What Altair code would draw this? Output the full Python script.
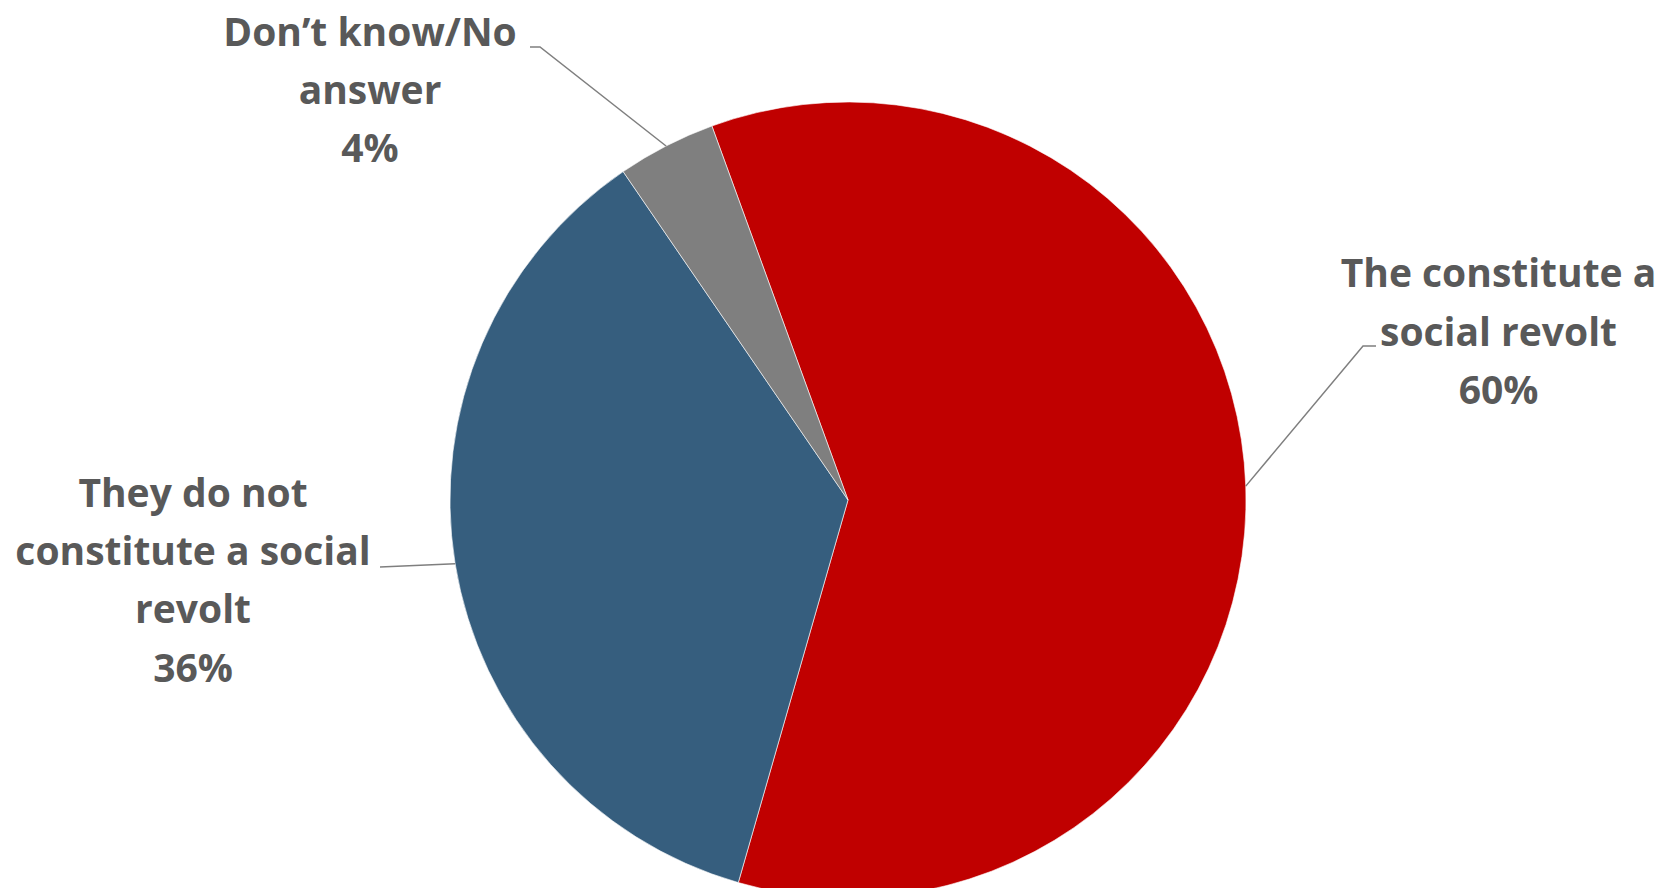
import math
import altair as alt
import pandas as pd

# ---- data ----
categories = [
    "The constitute a social revolt",
    "They do not constitute a social revolt",
    "Don’t know/No answer",
]
values = [60, 36, 4]
colors = ["#C00000", "#365E7E", "#7F7F7F"]
label_lines = [
    ["The constitute a", "social revolt", "60%"],
    ["They do not", "constitute a social", "revolt", "36%"],
    ["Don’t know/No", "answer", "4%"],
]

# ---- layout (plot-area pixels) ----
W, H = 1654, 880
CX, CY, R = 840, 492, 398
START_DEG = -20.0
label_x = [1490.5, 185.0, 362.0]
label_y0 = [279.3, 498.7, 37.5]
LINE_H = 58.3
elbows = [
    [(1355, 338), (1368, 338)],
    [(372, 559)],
    [(532, 39), (522, 39)],
]
FONT = "Open Sans"
FSIZE = 39
TCOLOR = "#595959"

pie_df = pd.DataFrame({"cat": categories, "value": values, "idx": list(range(len(values)))})

start_rad = math.radians(START_DEG)
total = sum(values)

pie = alt.Chart(pie_df).mark_arc(radius=R, stroke="white", strokeWidth=0.6).encode(
    theta=alt.Theta("value:Q", stack=True,
                    scale=alt.Scale(range=[start_rad, start_rad + 2 * math.pi])),
    color=alt.Color("cat:N", scale=alt.Scale(domain=categories, range=colors), legend=None),
    order=alt.Order("idx:Q"),
    x=alt.value(CX),
    y=alt.value(CY),
)

# leader lines: start on the pie edge at each slice's middle angle
rows = []
cum = 0
for i, v in enumerate(values):
    a = math.radians(START_DEG + (cum + v / 2) / total * 360)
    cum += v
    pts = [(CX + R * math.sin(a), CY - R * math.cos(a))] + elbows[i]
    for k, (px, py) in enumerate(pts):
        rows.append({"cat": categories[i], "k": k, "x": px, "y": py})
lines_df = pd.DataFrame(rows)

leaders = alt.Chart(lines_df).mark_line(color="#7F7F7F", strokeWidth=1.5).encode(
    x=alt.X("x:Q", scale=None),
    y=alt.Y("y:Q", scale=None),
    detail="cat:N",
    order="k:Q",
)

trows = []
for i, lines in enumerate(label_lines):
    for j, t in enumerate(lines):
        trows.append({"t": t, "x": label_x[i], "y": label_y0[i] + j * LINE_H})
text_df = pd.DataFrame(trows)

labels = alt.Chart(text_df).mark_text(
    font=FONT, fontSize=FSIZE, fontWeight="bold", color=TCOLOR,
    align="center", baseline="alphabetic",
).encode(
    x=alt.X("x:Q", scale=None),
    y=alt.Y("y:Q", scale=None),
    text="t:N",
)

chart = alt.layer(pie, leaders, labels).properties(
    width=W, height=H, autosize=alt.AutoSizeParams(type="none"), padding=0,
).configure_view(stroke=None)

chart.save("out.html", embed_options={"renderer": "svg", "actions": False})
